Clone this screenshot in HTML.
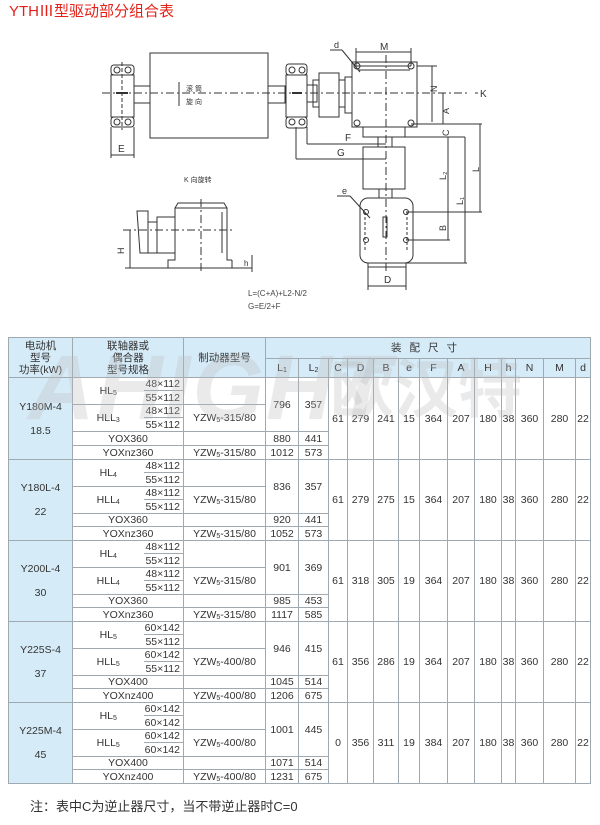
<!DOCTYPE html>
<html><head><meta charset="utf-8"><style>
html,body{margin:0;padding:0;background:#fff;}
body{width:600px;height:825px;position:relative;overflow:hidden;font-family:"Liberation Sans","Noto Sans CJK SC",sans-serif;}
.t{position:absolute;}
table{position:absolute;left:8px;top:337px;border-collapse:collapse;table-layout:fixed;width:582px;font-size:10.5px;color:#333;}
td{border:1px solid #a0a8b0;padding:0;text-align:center;line-height:12px;overflow:hidden;white-space:nowrap;}
.h{background:#d6ebf8;}
.m{background:#d6ebf8;}
.nb{border-right:none;}
.sz{border-left:none;text-align:right;padding-right:3px;}
.sz.u{border-bottom:1px solid #a0a8b0;}
sub{font-size:7px;vertical-align:-1px;line-height:0;}
.wm{position:absolute;color:#bbb;opacity:.3;font-weight:bold;font-style:italic;}
</style></head><body>
<div class="t" style="left:9px;top:3px;color:#e32119;font-size:15px;line-height:17px;">YTHⅢ型驱动部分组合表</div>

<svg width="600" height="330" style="position:absolute;left:0;top:0" fill="none" stroke="#333" stroke-width="1" font-family="Liberation Sans, Noto Sans CJK SC, sans-serif">
<line x1="102" y1="93" x2="470" y2="93" stroke-dasharray="8,3,2,3"/>
<line x1="475" y1="93" x2="478" y2="93"/>
<text x="480" y="97" font-size="10" fill="#333" stroke="none">K</text>
<rect x="111" y="75" width="23" height="42"/>
<rect x="111" y="65" width="23" height="10" rx="3"/>
<rect x="111" y="117" width="23" height="10" rx="3"/>
<circle cx="117" cy="70" r="3"/><circle cx="128" cy="70" r="3"/>
<circle cx="117" cy="122" r="3"/><circle cx="128" cy="122" r="3"/>
<line x1="122" y1="62" x2="122" y2="130" stroke-dasharray="4,2"/>
<line x1="116" y1="93" x2="128" y2="93" stroke-width="2"/>
<rect x="134" y="86" width="16" height="17"/>
<rect x="268" y="86" width="17" height="17"/>
<rect x="150" y="53" width="118" height="85"/>
<line x1="179" y1="82" x2="179" y2="106"/>
<text x="186" y="91" font-size="7" fill="#333" stroke="none">滚  筒</text>
<text x="186" y="104" font-size="7" fill="#333" stroke="none">旋  向</text>
<rect x="286" y="75" width="21" height="42"/>
<rect x="286" y="64" width="21" height="11" rx="3"/>
<rect x="286" y="117" width="21" height="11" rx="3"/>
<circle cx="292" cy="70" r="3"/><circle cx="302" cy="70" r="3"/>
<circle cx="292" cy="122" r="3"/><circle cx="302" cy="122" r="3"/>
<line x1="292" y1="93" x2="302" y2="93" stroke-width="2"/>
<rect x="307" y="85" width="10" height="17"/>
<rect x="313" y="80" width="6" height="27"/>
<rect x="319" y="73" width="20" height="44"/>
<rect x="339" y="80" width="6" height="27"/>
<rect x="345" y="77" width="7" height="36"/>
<rect x="352" y="62" width="65" height="65"/>
<line x1="356" y1="66" x2="411" y2="66"/><line x1="358" y1="70" x2="410" y2="70"/>
<circle cx="357" cy="66" r="3"/><circle cx="411" cy="66" r="3"/>
<circle cx="357" cy="123" r="3"/><circle cx="411" cy="123" r="3"/>
<rect x="363" y="127" width="42" height="10"/>
<rect x="378" y="137" width="14" height="10"/>
<rect x="363" y="147" width="42" height="42"/>
<rect x="379" y="189" width="13" height="9"/>
<rect x="360" y="198" width="53" height="65" rx="8"/>
<rect x="368" y="263" width="38" height="4"/>
<line x1="365" y1="212" x2="365" y2="252" stroke-dasharray="3,2"/>
<line x1="407" y1="212" x2="407" y2="252" stroke-dasharray="3,2"/>
<rect x="383" y="217" width="4" height="20"/>
<circle cx="366" cy="212" r="2.5"/><circle cx="406" cy="212" r="2.5"/>
<circle cx="366" cy="240" r="2.5"/><circle cx="406" cy="240" r="2.5"/>
<line x1="386" y1="55" x2="386" y2="272" stroke-dasharray="8,3,2,3"/>
<line x1="356" y1="52" x2="411" y2="52"/><line x1="356" y1="48" x2="356" y2="66"/><line x1="411" y1="48" x2="411" y2="66"/>
<text x="380" y="50" font-size="10" fill="#333" stroke="none">M</text>
<text x="334" y="48" font-size="9" fill="#333" stroke="none">d</text>
<line x1="330" y1="50" x2="342" y2="50"/><line x1="342" y1="50" x2="360" y2="72"/>
<line x1="417" y1="66" x2="437" y2="66"/><line x1="432" y1="66" x2="432" y2="122"/>
<text x="437" y="92" font-size="9" fill="#333" stroke="none" transform="rotate(-90 437 92)">N</text>
<line x1="443" y1="93" x2="443" y2="124"/>
<text x="449" y="114" font-size="9" fill="#333" stroke="none" transform="rotate(-90 449 114)">A</text>
<line x1="411" y1="124" x2="482" y2="124"/>
<text x="449" y="136" font-size="9" fill="#333" stroke="none" transform="rotate(-90 449 136)">C</text>
<line x1="405" y1="137" x2="465" y2="137"/>
<line x1="480" y1="124" x2="480" y2="212"/>
<text x="479" y="172" font-size="9" fill="#333" stroke="none" transform="rotate(-90 479 172)">L</text>
<line x1="448" y1="137" x2="448" y2="240"/>
<text x="446" y="180" font-size="9" fill="#333" stroke="none" transform="rotate(-90 446 180)">L₂</text>
<line x1="465" y1="137" x2="465" y2="263"/>
<text x="463" y="205" font-size="9" fill="#333" stroke="none" transform="rotate(-90 463 205)">L₁</text>
<line x1="406" y1="212" x2="482" y2="212"/>
<line x1="406" y1="240" x2="450" y2="240"/>
<line x1="406" y1="263" x2="467" y2="263"/>
<text x="446" y="231" font-size="9" fill="#333" stroke="none" transform="rotate(-90 446 231)">B</text>
<text x="342" y="194" font-size="9" fill="#333" stroke="none">e</text>
<line x1="337" y1="196" x2="350" y2="196"/><line x1="350" y1="196" x2="370" y2="218"/>
<line x1="368" y1="264" x2="368" y2="290"/><line x1="406" y1="264" x2="406" y2="290"/>
<line x1="368" y1="286" x2="406" y2="286"/>
<text x="384" y="283" font-size="10" fill="#333" stroke="none">D</text>
<line x1="111" y1="127" x2="111" y2="158"/><line x1="134" y1="127" x2="134" y2="158"/>
<line x1="111" y1="155" x2="134" y2="155"/>
<text x="118" y="152" font-size="10" fill="#333" stroke="none">E</text>
<line x1="307" y1="127" x2="307" y2="144"/><line x1="307" y1="144" x2="386" y2="144"/>
<text x="345" y="141" font-size="10" fill="#333" stroke="none">F</text>
<line x1="296" y1="127" x2="296" y2="159"/><line x1="296" y1="159" x2="386" y2="159"/>
<text x="337" y="156" font-size="10" fill="#333" stroke="none">G</text>
<text x="184" y="182" font-size="7" fill="#333" stroke="none">K 向旋转</text>
<path d="M137 211 L148 211 L148 253 L140 253 Z"/>
<rect x="148" y="222" width="9" height="31"/>
<rect x="157" y="217" width="18" height="36"/>
<path d="M175 253 L175 208 L178 203 L224 203 L227 208 L227 260 L232 260"/>
<line x1="175" y1="208" x2="227" y2="208"/>
<line x1="222" y1="212" x2="222" y2="253"/>
<path d="M175 253 L175 260 L168 260 L168 268"/>
<line x1="232" y1="260" x2="232" y2="268"/>
<line x1="125" y1="268" x2="252" y2="268"/>
<line x1="123" y1="230" x2="235" y2="230" stroke-dasharray="8,3,2,3"/>
<line x1="201" y1="199" x2="201" y2="272" stroke-dasharray="8,3,2,3"/>
<line x1="130" y1="230" x2="130" y2="268"/>
<text x="124" y="254" font-size="9" fill="#333" stroke="none" transform="rotate(-90 124 254)">H</text>
<line x1="252" y1="255" x2="252" y2="272"/>
<text x="244" y="266" font-size="8" fill="#333" stroke="none">h</text>
<text x="248" y="296" font-size="8" fill="#444" stroke="none">L=(C+A)+L2-N/2</text>
<text x="248" y="309" font-size="8" fill="#444" stroke="none">G=E/2+F</text>
</svg>

<table>
<colgroup>
<col style="width:64px"><col style="width:71px"><col style="width:40px"><col style="width:82px"><col style="width:33px"><col style="width:30px"><col style="width:19px"><col style="width:26px"><col style="width:25px"><col style="width:21px"><col style="width:28px"><col style="width:27px"><col style="width:27px"><col style="width:14px"><col style="width:28px"><col style="width:32px"><col style="width:15px">
</colgroup>
<tr style="height:21px"><td class="h" rowspan="2">电动机<br>型号<br>功率(kW)</td><td class="h" colspan="2" rowspan="2">联轴器或<br>偶合器<br>型号规格</td><td class="h" rowspan="2">制动器型号</td><td class="h" colspan="13" style="letter-spacing:8px">装配尺寸</td></tr>
<tr style="height:19px"><td class="h">L<sub>1</sub></td><td class="h">L<sub>2</sub></td><td class="h">C</td><td class="h">D</td><td class="h">B</td><td class="h">e</td><td class="h">F</td><td class="h">A</td><td class="h">H</td><td class="h">h</td><td class="h">N</td><td class="h">M</td><td class="h">d</td></tr>

<tr style="height:12px"><td class="m" rowspan="6">Y180M-4<br><br>18.5</td><td class="nb" rowspan="2">HL<sub>5</sub></td><td class="sz u">48×112</td><td rowspan="2"></td><td rowspan="4">796</td><td rowspan="4">357</td><td rowspan="6">61</td><td rowspan="6">279</td><td rowspan="6">241</td><td rowspan="6">15</td><td rowspan="6">364</td><td rowspan="6">207</td><td rowspan="6">180</td><td rowspan="6">38</td><td rowspan="6">360</td><td rowspan="6">280</td><td rowspan="6">22</td></tr>
<tr style="height:14px"><td class="sz">55×112</td></tr>
<tr style="height:13px"><td class="nb" rowspan="2">HLL<sub>3</sub></td><td class="sz u">48×112</td><td rowspan="2">YZW<sub>5</sub>-315/80</td></tr>
<tr style="height:14px"><td class="sz">55×112</td></tr>
<tr style="height:14px"><td colspan="2">YOX360</td><td></td><td>880</td><td>441</td></tr>
<tr style="height:14px"><td colspan="2">YOXnz360</td><td>YZW<sub>5</sub>-315/80</td><td>1012</td><td>573</td></tr>

<tr style="height:13px"><td class="m" rowspan="6">Y180L-4<br><br>22</td><td class="nb" rowspan="2">HL<sub>4</sub></td><td class="sz u">48×112</td><td rowspan="2"></td><td rowspan="4">836</td><td rowspan="4">357</td><td rowspan="6">61</td><td rowspan="6">279</td><td rowspan="6">275</td><td rowspan="6">15</td><td rowspan="6">364</td><td rowspan="6">207</td><td rowspan="6">180</td><td rowspan="6">38</td><td rowspan="6">360</td><td rowspan="6">280</td><td rowspan="6">22</td></tr>
<tr style="height:14px"><td class="sz">55×112</td></tr>
<tr style="height:13px"><td class="nb" rowspan="2">HLL<sub>4</sub></td><td class="sz u">48×112</td><td rowspan="2">YZW<sub>5</sub>-315/80</td></tr>
<tr style="height:14px"><td class="sz">55×112</td></tr>
<tr style="height:13px"><td colspan="2">YOX360</td><td></td><td>920</td><td>441</td></tr>
<tr style="height:14px"><td colspan="2">YOXnz360</td><td>YZW<sub>5</sub>-315/80</td><td>1052</td><td>573</td></tr>

<tr style="height:13px"><td class="m" rowspan="6">Y200L-4<br><br>30</td><td class="nb" rowspan="2">HL<sub>4</sub></td><td class="sz u">48×112</td><td rowspan="2"></td><td rowspan="4">901</td><td rowspan="4">369</td><td rowspan="6">61</td><td rowspan="6">318</td><td rowspan="6">305</td><td rowspan="6">19</td><td rowspan="6">364</td><td rowspan="6">207</td><td rowspan="6">180</td><td rowspan="6">38</td><td rowspan="6">360</td><td rowspan="6">280</td><td rowspan="6">22</td></tr>
<tr style="height:14px"><td class="sz">55×112</td></tr>
<tr style="height:13px"><td class="nb" rowspan="2">HLL<sub>4</sub></td><td class="sz u">48×112</td><td rowspan="2">YZW<sub>5</sub>-315/80</td></tr>
<tr style="height:14px"><td class="sz">55×112</td></tr>
<tr style="height:13px"><td colspan="2">YOX360</td><td></td><td>985</td><td>453</td></tr>
<tr style="height:14px"><td colspan="2">YOXnz360</td><td>YZW<sub>5</sub>-315/80</td><td>1117</td><td>585</td></tr>

<tr style="height:13px"><td class="m" rowspan="6">Y225S-4<br><br>37</td><td class="nb" rowspan="2">HL<sub>5</sub></td><td class="sz u">60×142</td><td rowspan="2"></td><td rowspan="4">946</td><td rowspan="4">415</td><td rowspan="6">61</td><td rowspan="6">356</td><td rowspan="6">286</td><td rowspan="6">19</td><td rowspan="6">364</td><td rowspan="6">207</td><td rowspan="6">180</td><td rowspan="6">38</td><td rowspan="6">360</td><td rowspan="6">280</td><td rowspan="6">22</td></tr>
<tr style="height:14px"><td class="sz">55×112</td></tr>
<tr style="height:13px"><td class="nb" rowspan="2">HLL<sub>5</sub></td><td class="sz u">60×142</td><td rowspan="2">YZW<sub>5</sub>-400/80</td></tr>
<tr style="height:14px"><td class="sz">55×112</td></tr>
<tr style="height:13px"><td colspan="2">YOX400</td><td></td><td>1045</td><td>514</td></tr>
<tr style="height:14px"><td colspan="2">YOXnz400</td><td>YZW<sub>5</sub>-400/80</td><td>1206</td><td>675</td></tr>

<tr style="height:13px"><td class="m" rowspan="6">Y225M-4<br><br>45</td><td class="nb" rowspan="2">HL<sub>5</sub></td><td class="sz u">60×142</td><td rowspan="2"></td><td rowspan="4">1001</td><td rowspan="4">445</td><td rowspan="6">0</td><td rowspan="6">356</td><td rowspan="6">311</td><td rowspan="6">19</td><td rowspan="6">384</td><td rowspan="6">207</td><td rowspan="6">180</td><td rowspan="6">38</td><td rowspan="6">360</td><td rowspan="6">280</td><td rowspan="6">22</td></tr>
<tr style="height:14px"><td class="sz">60×142</td></tr>
<tr style="height:13px"><td class="nb" rowspan="2">HLL<sub>5</sub></td><td class="sz u">60×142</td><td rowspan="2">YZW<sub>5</sub>-400/80</td></tr>
<tr style="height:14px"><td class="sz">60×142</td></tr>
<tr style="height:13px"><td colspan="2">YOX400</td><td></td><td>1071</td><td>514</td></tr>
<tr style="height:14px"><td colspan="2">YOXnz400</td><td>YZW<sub>5</sub>-400/80</td><td>1231</td><td>675</td></tr>
</table>

<div class="wm" style="left:28px;top:338px;font-size:92px;line-height:100px;letter-spacing:2px;">AHIGHT</div>
<div class="wm" style="left:330px;top:350px;font-size:64px;line-height:80px;font-style:normal;">欧汉特</div>

<div class="t" style="left:30px;top:799px;font-size:13px;color:#333;line-height:16px;">注：表中C为逆止器尺寸，当不带逆止器时C=0</div>
</body></html>
